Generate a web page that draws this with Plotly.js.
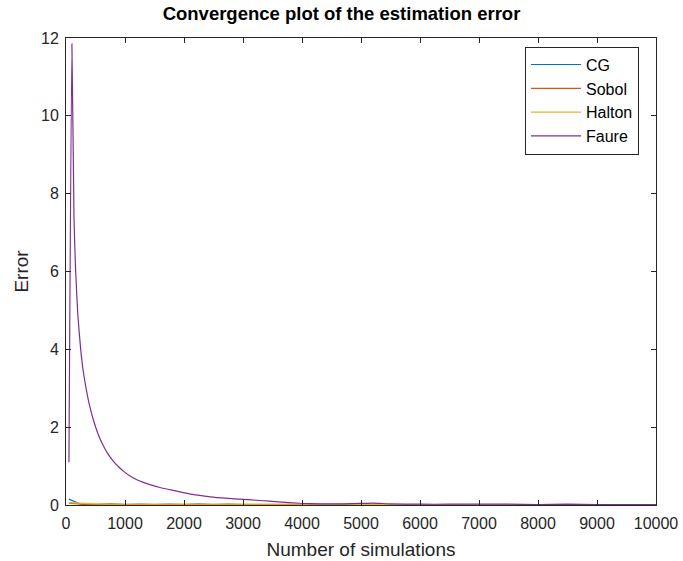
<!DOCTYPE html>
<html>
<head>
<meta charset="utf-8">
<script src="https://cdn.plot.ly/plotly-3.0.1.min.js"></script>
<style>html,body{margin:0;padding:0;background:#fff;}#chart{width:683px;height:561px;}</style>
</head>
<body>
<div id="chart"></div>
<script>
// Faure series (dense near the start, where it changes fast)
const faureX = [50, 100, 136, 164, 200, 249, 300, 378, 420, 463, 550, 633, 700, 800, 900, 972, 1100, 1200, 1311, 1450, 1593, 1800, 1989, 2200, 2441, 2700, 3006, 3288, 3600, 3966, 4300, 4700, 5000, 5200, 5500, 6000, 6500, 7000, 7500, 8000, 8500, 9000, 9500, 10000];
const faureY = [1.1, 11.85, 7.33, 6.0, 4.9, 4.0, 3.36, 2.7, 2.43, 2.19, 1.8, 1.52, 1.34, 1.13, 0.97, 0.87, 0.73, 0.65, 0.58, 0.51, 0.45, 0.38, 0.32, 0.26, 0.21, 0.175, 0.145, 0.115, 0.08, 0.045, 0.03, 0.03, 0.04, 0.05, 0.03, 0.02, 0.02, 0.02, 0.02, 0.01, 0.02, 0.01, 0.01, 0.01];

// small-error series
const smallX = [50, 250, 500, 750, 1000, 1250, 1500, 1750, 2000, 2250, 2500, 2750, 3000, 3250, 3500, 3750, 4000, 4250, 4500, 4750, 5000, 5250, 5500, 5750, 6000, 6250, 6500, 6750, 7000, 7250, 7500, 7750, 8000, 8250, 8500, 8750, 9000, 9250, 9500, 9750, 10000];
const cgY = [0.15, 0.02, 0.01, 0.03, 0.01, 0.02, 0.01, 0.02, 0.01, 0.03, 0.01, 0.02, 0.01, 0.01, 0.02, 0.01, 0.01, 0.02, 0.01, 0.01, 0.02, 0.01, 0.01, 0.01, 0.02, 0.01, 0.01, 0.01, 0.01, 0.02, 0.01, 0.01, 0.01, 0.01, 0.01, 0.02, 0.01, 0.01, 0.01, 0.01, 0.01];
const sobolY = [0.05, 0.02, 0.01, 0.02, 0.01, 0.01, 0.02, 0.01, 0.01, 0.01, 0.02, 0.01, 0.01, 0.01, 0.01, 0.02, 0.01, 0.01, 0.01, 0.01, 0.01, 0.01, 0.01, 0.02, 0.01, 0.01, 0.01, 0.01, 0.01, 0.01, 0.01, 0.01, 0.01, 0.01, 0.01, 0.01, 0.01, 0.01, 0.01, 0.01, 0.01];
const haltonY = [0.06, 0.04, 0.03, 0.02, 0.02, 0.03, 0.02, 0.02, 0.02, 0.02, 0.02, 0.02, 0.02, 0.02, 0.02, 0.02, 0.02, 0.02, 0.02, 0.02, 0.01, 0.02, 0.01, 0.01, 0.01, 0.01, 0.01, 0.01, 0.01, 0.01, 0.01, 0.01, 0.01, 0.01, 0.01, 0.01, 0.01, 0.01, 0.01, 0.01, 0.01];

const xTicks = [0, 1000, 2000, 3000, 4000, 5000, 6000, 7000, 8000, 9000, 10000];
const xTickText = ['0', '1000', '2000', '3000', '4000', '5000', '6000', '7000', '8000', '9000', '10000'];
const yTicks = [0, 2, 4, 6, 8, 10, 12];

const names = ['CG', 'Sobol', 'Halton', 'Faure'];
const colors = ['#0072BD', '#D95319', '#EDB120', '#7E2F8E'];
const xs = [smallX, smallX, smallX, faureX];
const ys = [cgY, sobolY, haltonY, faureY];

const traces = names.map((n, i) => ({
  x: xs[i], y: ys[i], name: n, type: 'scatter', mode: 'lines',
  line: {color: colors[i], width: 1.2, shape: i === 3 ? 'spline' : 'linear', smoothing: 0.5}
}));

const FONT = 'Liberation Sans, Arial, sans-serif';
const axisCommon = {
  showgrid: false, zeroline: false, showline: true, linecolor: '#262626', linewidth: 1,
  mirror: 'ticks', ticks: 'inside', ticklen: 5, tickcolor: '#262626',
  tickfont: {family: FONT, size: 16, color: '#262626'}
};

const layout = {
  width: 683, height: 561,
  margin: {l: 66, r: 27, t: 38, b: 56},
  paper_bgcolor: '#fff', plot_bgcolor: '#fff',
  title: {text: '<b>Convergence plot of the estimation error</b>', x: 0.5, xanchor: 'center', y: 0.988, yanchor: 'top',
    font: {family: FONT, size: 18.5, color: '#000'}},
  xaxis: Object.assign({}, axisCommon, {range: [0, 10000], tickvals: xTicks, ticktext: xTickText, ticklabelstandoff: 4,
    title: {text: 'Number of simulations', standoff: 11, font: {family: FONT, size: 19, color: '#262626'}}}),
  yaxis: Object.assign({}, axisCommon, {range: [0, 12], tickvals: yTicks, ticklabelstandoff: 3,
    title: {text: 'Error', standoff: 7, font: {family: FONT, size: 19, color: '#262626'}}}),
  showlegend: true,
  legend: {x: 0.778, xanchor: 'left', y: 0.866, yanchor: 'middle', bgcolor: '#fff', bordercolor: '#262626', borderwidth: 1,
    itemwidth: 50,
    font: {family: FONT, size: 16, color: '#000'}, tracegroupgap: 0}
};

Plotly.newPlot('chart', traces, layout, {displayModeBar: false, staticPlot: true});
</script>
</body>
</html>
